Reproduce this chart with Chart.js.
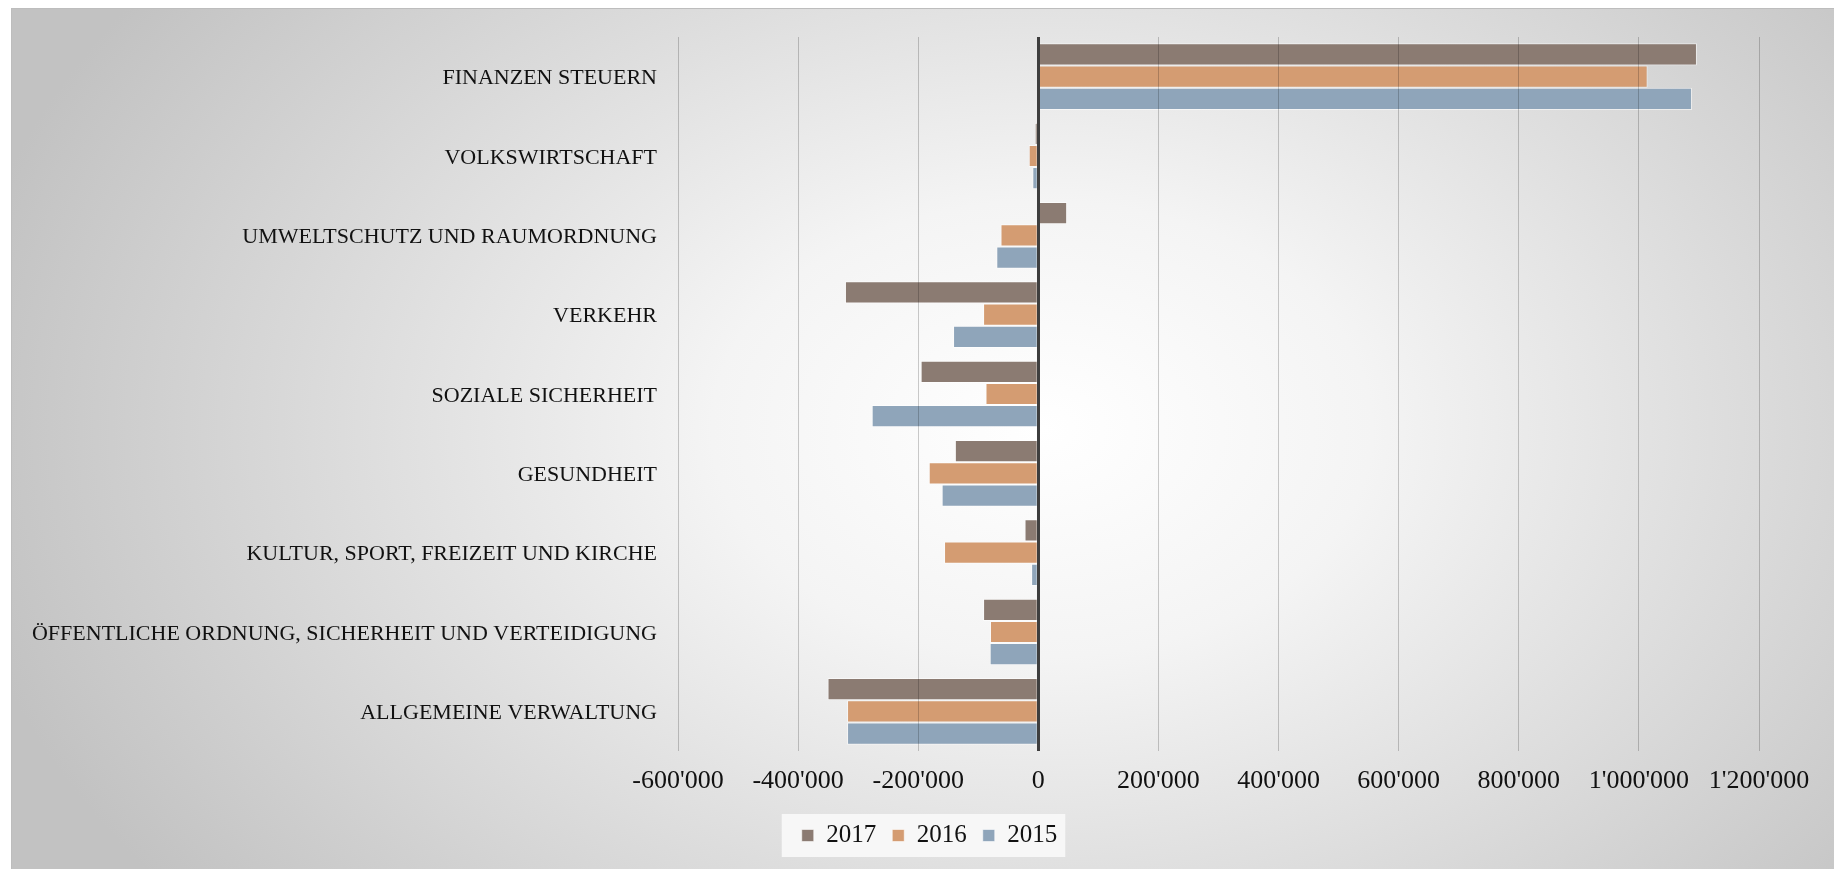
<!DOCTYPE html>
<html lang="de">
<head>
<meta charset="utf-8">
<title>Nettoaufwand nach Funktion</title>
<script src="https://cdn.jsdelivr.net/npm/chart.js@4.4.1/dist/chart.umd.min.js"></script>
<style>
  html, body { margin: 0; padding: 0; width: 1834px; height: 869px; overflow: hidden; background: #fff; }
  #panel {
    position: absolute; left: 11px; top: 8px; right: 0; bottom: 0;
    border-top: 1px solid #bdbdbd; border-left: 1px solid #bdbdbd;
    background: radial-gradient(ellipse 1100px 760px at 1030px 420px, #ffffff 0%, #f4f4f4 30%, #c2c2c2 100%);
  }
  #chartBox { position: absolute; left: 0; top: 0; width: 1834px; height: 869px; }
</style>
</head>
<body>
<div id="panel"></div>
<div id="chartBox"><canvas id="barChart"></canvas></div>
<script>
// Data
const categories = [
  'FINANZEN STEUERN',
  'VOLKSWIRTSCHAFT',
  'UMWELTSCHUTZ UND RAUMORDNUNG',
  'VERKEHR',
  'SOZIALE SICHERHEIT',
  'GESUNDHEIT',
  'KULTUR, SPORT, FREIZEIT UND KIRCHE',
  'ÖFFENTLICHE ORDNUNG, SICHERHEIT UND VERTEIDIGUNG',
  'ALLGEMEINE VERWALTUNG'
];
const years = ['2017', '2016', '2015'];
const values2017 = [1096700, -6000, 48000, -322000, -196000, -139000, -23000, -92000, -351000];
const values2016 = [1014600, -16000, -63000, -92000, -88000, -182500, -157000, -80500, -318500];
const values2015 = [1088400, -10000, -70000, -142000, -277500, -161000, -12000, -81000, -318500];
const xMin = -600000;
const xMax = 1200000;
const xStep = 200000;

const barColors = ['#8b7b72', '#d49c72', '#8fa5ba'];
const serif = "'Liberation Serif', 'Times New Roman', serif";

// 1'000'000 style
function formatTick(v) {
  return String(v).replace(/\B(?=(\d{3})+(?!\d))/g, "'");
}

// nudge the legend right and put a light box behind it
const legendBackground = {
  id: 'legendBackground',
  afterLayout(chart) {
    const lg = chart.legend;
    if (!lg) return;
    lg.left += 50;
    lg.right += 50;
  },
  beforeDraw(chart) {
    const boxes = chart.legend && chart.legend.legendHitBoxes;
    if (!boxes || !boxes.length) return;
    const first = boxes[0];
    const last = boxes[boxes.length - 1];
    const ctx = chart.ctx;
    ctx.save();
    ctx.fillStyle = 'rgba(249,249,249,0.92)';
    ctx.fillRect(first.left - 20, first.top - 9, last.left + last.width - first.left + 28, first.height + 18);
    ctx.restore();
  }
};

Chart.defaults.font.family = serif;
Chart.defaults.color = '#111';

new Chart(document.getElementById('barChart'), {
  type: 'bar',
  data: {
    labels: categories,
    datasets: [values2017, values2016, values2015].map((vals, i) => ({
      label: years[i],
      data: vals,
      backgroundColor: barColors[i],
      borderColor: 'rgba(255,255,255,0.55)',
      borderWidth: 1,
      categoryPercentage: 0.84,
      barPercentage: 1.0,
    })),
  },
  options: {
    indexAxis: 'y',
    responsive: true,
    maintainAspectRatio: false,
    animation: false,
    layout: { padding: { top: 37, right: 75, left: 0, bottom: 11 } },
    plugins: {
      tooltip: { enabled: false },
      legend: {
        position: 'bottom',
        labels: { font: { size: 25 }, color: '#111', boxWidth: 12, boxHeight: 12, padding: 16 },
      },
    },
    scales: {
      x: {
        min: xMin, max: xMax,
        ticks: { stepSize: xStep, font: { size: 26 }, color: '#111', padding: 15, callback: v => formatTick(v), maxRotation: 0 },
        grid: {
          z: 1,
          drawTicks: false,
          color: c => (c.tick && c.tick.value === 0 ? '#3e3e3e' : 'rgba(0,0,0,0.2)'),
          lineWidth: c => (c.tick && c.tick.value === 0 ? 3 : 1),
        },
        border: { display: false },
        afterFit: s => { s.height = 56; },
      },
      y: {
        ticks: { font: { size: 22 }, color: '#111', padding: 21, labelOffset: 2 },
        grid: { display: false, drawTicks: false },
        border: { display: false },
        afterFit: s => { s.width = 678; },
      },
    },
  },
  plugins: [legendBackground],
});
</script>
</body>
</html>
